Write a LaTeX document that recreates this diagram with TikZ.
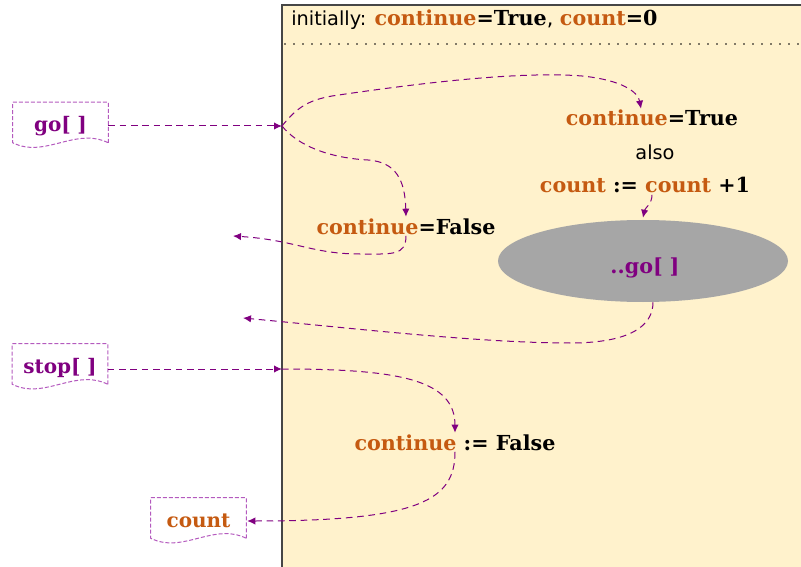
\documentclass[tikz,border=0pt]{standalone}
\usepackage{fontspec}
\setmainfont{DejaVu Serif}
\setsansfont{DejaVu Sans}
\usetikzlibrary{arrows.meta,calc,shapes.geometric}
\definecolor{orng}{RGB}{197,90,17}
\definecolor{purp}{RGB}{128,0,128}
\definecolor{docc}{RGB}{180,90,190}
\definecolor{boxfill}{RGB}{255,242,204}
\definecolor{ellgray}{RGB}{166,166,166}
\definecolor{frame}{RGB}{70,70,70}
\newcommand\docoutline[1]{\draw[docline] (#1.south east) -- (#1.north east) -- (#1.north west) -- (#1.south west) .. controls ($(#1.south west)+(32,16)$) and ($(#1.south east)+(-33,-16)$) .. (#1.south east);}
\newcommand\org[1]{\textcolor{orng}{#1}}
\begin{document}
\begin{tikzpicture}[x=0.75pt,y=-0.75pt,
  conn/.style={draw=purp, line width=0.75pt, dash pattern=on 5pt off 3.5pt, -{Latex[length=6pt,width=5.5pt]}},
  lbl/.style={font=\fontsize{15.5}{18}\selectfont\bfseries, inner sep=1pt},
  sanslbl/.style={font=\fontsize{14.5}{17}\selectfont\sffamily, inner sep=1pt},
  doc/.style={minimum width=71.25pt, minimum height=30pt, inner sep=0pt, text height=16pt, text depth=2pt, font=\fontsize{15}{18}\selectfont\bfseries},
  docline/.style={draw=docc, line width=0.75pt, dash pattern=on 3pt off 1.5pt},
]
\useasboundingbox (0,0) rectangle (801,567);
% main box
\fill[boxfill] (282,5) rectangle (801,567);
\draw[frame, line width=0.9pt] (801,5) -- (282,5) -- (282,567);
\draw[black, line width=1.4pt, line cap=round, dash pattern=on 0pt off 6.75pt] (285,44) -- (801,44);
\node[anchor=base west, inner sep=0pt] (hdr) at (291,26)
  {\fontsize{14.5}{17}\selectfont\sffamily initially: \fontsize{15.5}{18}\selectfont\rmfamily\bfseries\org{continue}=True\sffamily\mdseries, \rmfamily\bfseries\org{count}=0};

% documents
\node[doc, text=purp] (go) at (60.5,122.5) {go[\,\,]};
\docoutline{go}
\node[doc, text=purp] (stop) at (60,364) {stop[\,\,]};
\docoutline{stop}
\node[doc, text=orng] (cntdoc) at (198.5,518) {count};
\docoutline{cntdoc}

% labels in box
\node[lbl, anchor=base] (ctrue) at (652,126) {\org{continue}=True};
\node[sanslbl, anchor=base] (also) at (655,160) {also};
\node[lbl, anchor=base] (cnt) at (645,193) {\org{count} := \org{count} +1};
\node[lbl, anchor=base] (cfalse) at (406,234) {\org{continue}=False};
\node[ellipse, fill=ellgray, minimum width=217.5pt, minimum height=61.5pt, inner sep=0pt] (ell) at (643,261) {};
\node[lbl, anchor=base, text=purp] (egotxt) at (645,273) {..go[\,\,]};
\node[lbl, anchor=base] (cf2) at (455,450) {\org{continue} := False};

% junctions and free ends
\coordinate (A) at (282,126);
\coordinate (B) at (282,369);
\coordinate (F1) at (233,236);
\coordinate (F2) at (243,318);

% connectors
\draw[conn] (go.east |- A) -- (A);
\draw[conn] (A) .. controls (298,106) and (310,100) .. (332,96)
   .. controls (420,83) and (520,71) .. (582,76)
   .. controls (622,80) and (638,92) .. ($(ctrue.north)+(-11,0)$);
\draw[conn] (A) .. controls (298,146) and (330,158) .. (368,160)
   .. controls (396,162) and (405,180) .. (cfalse.north);
\draw[conn] (cfalse.south) .. controls (406,256) and (392,254) .. (360,254)
   .. controls (312,254) and (295,240) .. (F1);
\draw[conn] ($(cnt.south)+(7,0)$) .. controls (652,204) and (645,208) .. ($(ell.north)+(0,-2)$);
\draw[conn] ($(ell.south)+(10,0)$) .. controls (653,326) and (630,343) .. (570,343)
   .. controls (480,343) and (350,328) .. (F2);
\draw[conn] (stop.east |- B) -- (B);
\draw[conn] (B) .. controls (400,369) and (455,380) .. (cf2.north);
\draw[conn] (cf2.south) .. controls (455,500) and (420,521) .. ($(cntdoc.east)+(1,3)$);
\end{tikzpicture}
\end{document}
